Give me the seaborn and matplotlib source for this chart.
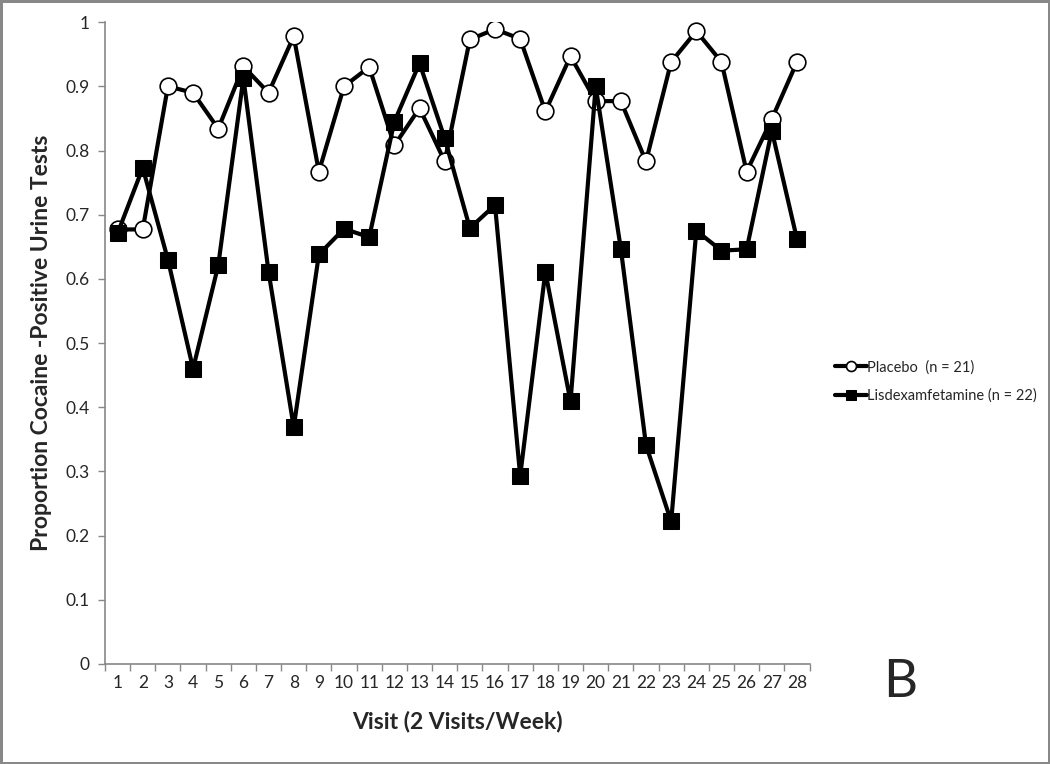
import numpy as np
import pandas as pd
import matplotlib.pyplot as plt
import seaborn as sns

# values
visits = list(range(1, 29))
placebo = [0.677, 0.677, 0.900, 0.890, 0.834, 0.931, 0.890, 0.978, 0.767, 0.900,
           0.930, 0.808, 0.866, 0.783, 0.973, 0.989, 0.974, 0.861, 0.947, 0.877,
           0.877, 0.783, 0.938, 0.986, 0.938, 0.767, 0.849, 0.938]
lisdex = [0.671, 0.773, 0.630, 0.460, 0.621, 0.913, 0.611, 0.369, 0.638, 0.678,
          0.665, 0.845, 0.936, 0.819, 0.679, 0.715, 0.293, 0.611, 0.409, 0.900,
          0.647, 0.341, 0.222, 0.675, 0.644, 0.646, 0.831, 0.662]
labels = ["Placebo  (n = 21)", "Lisdexamfetamine (n = 22)"]
yticks = [0, 0.1, 0.2, 0.3, 0.4, 0.5, 0.6, 0.7, 0.8, 0.9, 1]

df = pd.DataFrame({"visit": visits, "placebo": placebo, "lisdex": lisdex})

sns.set_theme(style="white")
plt.rcParams["font.family"] = ["Lato", "DejaVu Sans"]

fig = plt.figure(figsize=(10.5, 7.64), dpi=100)
fig.patch.set_edgecolor("#888888")
fig.patch.set_linewidth(2.5)
ax = fig.add_axes([0.100, 0.131, 0.671, 0.840])

sns.lineplot(data=df, x="visit", y="placebo", ax=ax, color="black", lw=3,
             marker="o", markersize=12, markerfacecolor="white",
             markeredgecolor="black", markeredgewidth=1.2, label=labels[0])
sns.lineplot(data=df, x="visit", y="lisdex", ax=ax, color="black", lw=3,
             marker="s", markersize=12, markerfacecolor="black",
             markeredgecolor="black", label=labels[1])

ax.set_xlim(0.5, 28.5)
ax.set_ylim(0, 1)
ax.set_xticks(visits)
ax.set_xticklabels([str(v) for v in visits])
ax.set_xticks(np.arange(0.5, 29, 1), minor=True)
ax.set_yticks(yticks)
ax.set_yticklabels([f"{t:g}" for t in yticks])
ax.tick_params(axis="x", which="major", length=0, labelsize=12.5, pad=8)
ax.tick_params(axis="x", which="minor", length=5, width=1, color="#888888",
               bottom=True)
ax.tick_params(axis="y", length=5, width=1, color="#888888", left=True,
               labelsize=12.5, pad=6)

for side in ["top", "right"]:
    ax.spines[side].set_visible(False)
for side in ["left", "bottom"]:
    ax.spines[side].set_color("#888888")
    ax.spines[side].set_linewidth(1.2)

ax.set_xlabel("Visit (2 Visits/Week)", fontsize=16.5, fontweight="bold", labelpad=14)
ax.set_ylabel("Proportion Cocaine -Positive Urine Tests", fontsize=16.5,
              fontweight="bold", labelpad=10)

ax.legend(loc="center left", bbox_to_anchor=(1.017, 0.44), frameon=False,
          fontsize=10.5, handlelength=2.2, handletextpad=0.05, markerscale=0.6,
          labelspacing=1.0)

fig.text(0.857, 0.107, "B", fontsize=38, ha="center", va="center")

plt.savefig("out.png", dpi=100, edgecolor=fig.get_edgecolor())
